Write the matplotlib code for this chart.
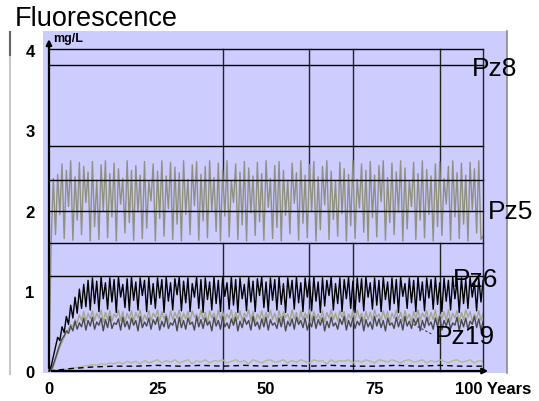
import numpy as np
import matplotlib
matplotlib.use('Agg')
import matplotlib.pyplot as plt
from matplotlib.lines import Line2D

plt.rcParams['font.family'] = ['Liberation Sans', 'DejaVu Sans']

# sampling years (every half year, every year, every 5 years)
years = np.arange(0, 100.5, 0.5)
years_low = np.arange(0, 101, 1)
years_base = np.arange(0, 101, 5)

# Pz5 - grey band 1.6 .. 2.6 mg/L
pz5 = [0.00, 1.62, 2.40, 1.70, 2.45, 1.95, 2.58, 1.65, 2.50, 2.05, 2.62, 1.63, 2.42, 1.88, 2.60, 1.70, 2.55, 2.10, 2.48, 1.62,
       2.61, 1.80, 2.38, 1.64, 2.57, 2.00, 2.62, 1.66, 2.46, 1.92, 2.59, 1.62, 2.52, 2.08, 2.40, 1.72, 2.62, 1.85, 2.50, 1.63,
       2.56, 1.98, 2.44, 1.65, 2.61, 1.78, 2.36, 2.12, 2.58, 1.62, 2.49, 1.90, 2.62, 1.68, 2.43, 2.02, 2.60, 1.64, 2.54, 1.83,
       2.47, 1.62, 2.62, 1.95, 2.39, 1.70, 2.57, 2.06, 2.61, 1.63, 2.45, 1.87, 2.55, 1.66, 2.62, 2.00, 2.41, 1.74, 2.59, 1.62,
       2.51, 1.93, 2.62, 1.67, 2.37, 2.10, 2.58, 1.64, 2.48, 1.82, 2.61, 1.62, 2.53, 1.97, 2.43, 1.69, 2.60, 1.86, 2.46, 1.63,
       2.62, 2.04, 2.40, 1.65, 2.56, 1.79, 2.61, 1.62, 2.50, 1.94, 2.38, 1.71, 2.59, 2.09, 2.47, 1.63, 2.62, 1.84, 2.44, 1.66,
       2.57, 1.99, 2.61, 1.62, 2.42, 1.76, 2.55, 2.07, 2.62, 1.64, 2.49, 1.89, 2.36, 1.68, 2.60, 1.96, 2.52, 1.62, 2.45, 1.81,
       2.62, 1.65, 2.39, 2.03, 2.58, 1.73, 2.50, 1.62, 2.61, 1.91, 2.44, 1.67, 2.56, 2.11, 2.62, 1.63, 2.41, 1.85, 2.59, 1.70,
       2.48, 1.98, 2.62, 1.62, 2.53, 1.77, 2.37, 2.05, 2.60, 1.64, 2.46, 1.88, 2.62, 1.66, 2.51, 1.95, 2.43, 1.62, 2.58, 1.80,
       2.61, 1.69, 2.40, 2.08, 2.55, 1.63, 2.62, 1.92, 2.47, 1.65, 2.59, 1.83, 2.44, 1.62, 2.60, 2.01, 2.52, 1.72, 2.62, 1.64,
       1.68]

# Pz6 - black, rises then 0.75 .. 1.17
pz6 = [0.00, 0.06, 0.18, 0.30, 0.42, 0.38, 0.55, 0.48, 0.68, 0.58, 0.82, 0.66, 0.92, 0.72, 1.02, 0.78, 1.08, 0.80, 1.13, 0.76,
       1.16, 0.84, 1.12, 0.74, 1.17, 0.90, 1.10, 0.77, 1.16, 0.86, 1.14, 0.73, 1.17, 0.92, 1.08, 0.79, 1.15, 0.75, 1.17, 0.88,
       1.11, 0.76, 1.16, 0.94, 1.13, 0.74, 1.17, 0.83, 1.09, 0.78, 1.16, 0.91, 1.14, 0.73, 1.17, 0.87, 1.10, 0.76, 1.15, 0.95,
       1.17, 0.75, 1.12, 0.85, 1.16, 0.74, 1.09, 0.92, 1.17, 0.78, 1.14, 0.73, 1.16, 0.89, 1.11, 0.76, 1.17, 0.84, 1.13, 0.74,
       1.16, 0.93, 1.10, 0.77, 1.17, 0.82, 1.14, 0.73, 1.16, 0.90, 1.08, 0.75, 1.17, 0.86, 1.12, 0.74, 1.15, 0.94, 1.17, 0.79,
       1.11, 0.74, 1.16, 0.88, 1.14, 0.76, 1.17, 0.83, 1.09, 0.73, 1.16, 0.91, 1.13, 0.77, 1.17, 0.85, 1.10, 0.74, 1.16, 0.92,
       1.14, 0.75, 1.17, 0.87, 1.11, 0.73, 1.16, 0.81, 1.13, 0.94, 1.17, 0.76, 1.09, 0.84, 1.16, 0.74, 1.14, 0.90, 1.17, 0.78,
       1.12, 0.73, 1.16, 0.86, 1.15, 0.75, 1.17, 0.92, 1.10, 0.77, 1.16, 0.82, 1.13, 0.74, 1.17, 0.89, 1.11, 0.76, 1.16, 0.84,
       1.14, 0.73, 1.17, 0.93, 1.09, 0.78, 1.16, 0.85, 1.13, 0.74, 1.17, 0.88, 1.11, 0.75, 1.16, 0.91, 1.14, 0.77, 1.17, 0.83,
       1.10, 0.74, 1.16, 0.87, 1.13, 0.76, 1.17, 0.90, 1.12, 0.73, 1.16, 0.84, 1.14, 0.78, 1.17, 0.92, 1.11, 0.75, 1.16, 0.86,
       1.13]

# Pz19 - light khaki band 0.6 .. 0.76
pz19 = [0.00, 0.00, 0.05, 0.14, 0.22, 0.30, 0.36, 0.42, 0.48, 0.52, 0.58, 0.55, 0.64, 0.60, 0.70, 0.63, 0.74, 0.62, 0.72, 0.65,
        0.75, 0.63, 0.72, 0.66, 0.76, 0.61, 0.73, 0.64, 0.75, 0.62, 0.71, 0.67, 0.76, 0.63, 0.74, 0.60, 0.72, 0.65, 0.75, 0.62,
        0.73, 0.66, 0.76, 0.61, 0.70, 0.64, 0.75, 0.63, 0.72, 0.67, 0.76, 0.62, 0.74, 0.65, 0.71, 0.60, 0.75, 0.64, 0.73, 0.66,
        0.76, 0.62, 0.72, 0.65, 0.74, 0.61, 0.75, 0.67, 0.71, 0.63, 0.76, 0.64, 0.73, 0.60, 0.75, 0.66, 0.72, 0.62, 0.76, 0.65,
        0.74, 0.63, 0.71, 0.66, 0.76, 0.61, 0.73, 0.64, 0.75, 0.62, 0.72, 0.67, 0.76, 0.63, 0.74, 0.60, 0.71, 0.65, 0.75, 0.62,
        0.73, 0.66, 0.76, 0.64, 0.72, 0.61, 0.75, 0.63, 0.74, 0.67, 0.71, 0.62, 0.76, 0.65, 0.73, 0.60, 0.75, 0.64, 0.72, 0.66,
        0.76, 0.62, 0.74, 0.65, 0.71, 0.63, 0.75, 0.61, 0.73, 0.66, 0.76, 0.64, 0.72, 0.62, 0.75, 0.67, 0.74, 0.60, 0.71, 0.65,
        0.75, 0.63, 0.76, 0.66, 0.72, 0.61, 0.74, 0.64, 0.73, 0.62, 0.76, 0.67, 0.71, 0.63, 0.75, 0.65, 0.74, 0.60, 0.72, 0.66,
        0.76, 0.64, 0.73, 0.62, 0.75, 0.65, 0.71, 0.61, 0.74, 0.66, 0.76, 0.63, 0.72, 0.67, 0.75, 0.62, 0.73, 0.64, 0.76, 0.60,
        0.71, 0.65, 0.74, 0.63, 0.76, 0.62, 0.72, 0.66, 0.75, 0.61, 0.73, 0.64, 0.76, 0.67, 0.74, 0.62, 0.71, 0.65, 0.75, 0.63,
        0.72]

# dark grey band 0.5 .. 0.68 (unlabelled)
dark = [0.00, 0.02, 0.08, 0.16, 0.25, 0.33, 0.40, 0.44, 0.50, 0.47, 0.56, 0.50, 0.62, 0.52, 0.60, 0.55, 0.66, 0.51, 0.63, 0.56,
        0.67, 0.52, 0.61, 0.57, 0.66, 0.50, 0.64, 0.54, 0.68, 0.53, 0.60, 0.58, 0.65, 0.51, 0.67, 0.55, 0.62, 0.52, 0.66, 0.57,
        0.63, 0.50, 0.68, 0.54, 0.61, 0.56, 0.66, 0.52, 0.64, 0.58, 0.67, 0.51, 0.62, 0.55, 0.68, 0.53, 0.60, 0.57, 0.65, 0.50,
        0.67, 0.54, 0.63, 0.52, 0.66, 0.58, 0.61, 0.51, 0.68, 0.55, 0.64, 0.53, 0.66, 0.57, 0.62, 0.50, 0.67, 0.56, 0.63, 0.52,
        0.68, 0.55, 0.60, 0.53, 0.65, 0.57, 0.67, 0.50, 0.62, 0.54, 0.66, 0.58, 0.63, 0.51, 0.68, 0.56, 0.61, 0.52, 0.65, 0.55,
        0.67, 0.51, 0.64, 0.57, 0.60, 0.53, 0.66, 0.55, 0.68, 0.50, 0.62, 0.56, 0.65, 0.52, 0.67, 0.58, 0.63, 0.54, 0.66, 0.51,
        0.61, 0.55, 0.68, 0.53, 0.64, 0.57, 0.66, 0.50, 0.62, 0.54, 0.67, 0.56, 0.60, 0.52, 0.65, 0.58, 0.68, 0.51, 0.63, 0.55,
        0.66, 0.53, 0.62, 0.57, 0.67, 0.50, 0.64, 0.55, 0.61, 0.52, 0.68, 0.56, 0.65, 0.54, 0.63, 0.50, 0.66, 0.57, 0.60, 0.53,
        0.67, 0.55, 0.64, 0.51, 0.68, 0.56, 0.62, 0.53, 0.65, 0.58, 0.66, 0.50, 0.63, 0.54, 0.67, 0.57, 0.61, 0.52, 0.66, 0.55,
        0.68, 0.51, 0.63, 0.56, 0.65, 0.53, 0.60, 0.57, 0.67, 0.50, 0.64, 0.55, 0.66, 0.52, 0.62, 0.58, 0.68, 0.54, 0.65, 0.51,
        0.62]

# low khaki series ~0.1 (yearly)
low = [0.00, 0.00, 0.00, 0.01, 0.02, 0.03, 0.04, 0.05, 0.06, 0.07, 0.08, 0.07, 0.09, 0.08, 0.10, 0.09, 0.11, 0.09, 0.12, 0.10,
       0.12, 0.09, 0.13, 0.10, 0.12, 0.14, 0.10, 0.13, 0.11, 0.14, 0.10, 0.12, 0.14, 0.09, 0.13, 0.11, 0.14, 0.10, 0.13, 0.12,
       0.14, 0.10, 0.12, 0.14, 0.11, 0.13, 0.09, 0.14, 0.12, 0.10, 0.13, 0.14, 0.11, 0.12, 0.14, 0.10, 0.13, 0.11, 0.14, 0.12,
       0.10, 0.14, 0.12, 0.13, 0.09, 0.14, 0.11, 0.13, 0.12, 0.14, 0.10, 0.13, 0.11, 0.14, 0.12, 0.10, 0.14, 0.13, 0.11, 0.14,
       0.12, 0.10, 0.13, 0.14, 0.11, 0.12, 0.14, 0.10, 0.13, 0.11, 0.14, 0.12, 0.10, 0.13, 0.14, 0.11, 0.12, 0.14, 0.10, 0.13,
       0.12]

# black base line near 0 (every 5 years)
base = [0.00, 0.03, 0.05, 0.06, 0.06, 0.07, 0.06, 0.07, 0.06, 0.07, 0.06, 0.07, 0.06, 0.07, 0.06, 0.06, 0.07, 0.06, 0.07, 0.06, 0.06]

# reference lines
h_levels = [4.01, 3.81, 2.80, 2.38, 1.99, 1.60, 1.19]
v_years = [40, 60, 70, 90]

x_ticks = [0, 25, 50, 75]
y_ticks = [0, 1, 2, 3, 4]

fig = plt.figure(figsize=(5.39, 4.02), dpi=100)
ax = fig.add_axes([43 / 539, 28 / 402, 464 / 539, 342 / 402])
ax.set_facecolor('#ccccff')
ax.set_xlim(-1.38, 105.5)
ax.set_ylim(-0.025, 4.237)

for s in ['top', 'left', 'bottom']:
    ax.spines[s].set_visible(False)
ax.spines['right'].set_color('#8a8a8a')
ax.spines['right'].set_linewidth(1.2)

# data
ax.plot(years, pz5, color='#909080', lw=1.0, zorder=2)
ax.plot(years_low, low, color='#b8b890', lw=1.0, zorder=2)
ax.plot(years_base, base, color='black', lw=1.0, ls=(0, (4, 3)), zorder=2)
ax.plot(years, pz19, color='#a5a58e', lw=1.0, zorder=2)
ax.plot(years, dark, color='#4a4a4a', lw=1.0, zorder=2)
ax.plot(years, pz6, color='black', lw=1.0, zorder=3)

# grid-like reference lines
for h in h_levels:
    ax.plot([0, 100], [h, h], color='black', lw=1.0, zorder=4)
for v in v_years:
    ax.plot([v, v], [0, 1.60], color='#222222', lw=1.0, zorder=1.5)
    ax.plot([v, v], [2.38, 4.01], color='#222222', lw=1.0, zorder=1.5)
ax.plot([100, 100], [0, 4.01], color='#222222', lw=1.0, zorder=4)

# axes with arrows
ax.annotate('', xy=(0, 4.17), xytext=(0, 0), arrowprops=dict(arrowstyle='-|>', color='black', lw=1.6, mutation_scale=8), zorder=5)
ax.annotate('', xy=(101.8, 0), xytext=(0, 0), arrowprops=dict(arrowstyle='-|>', color='black', lw=1.6, mutation_scale=8), zorder=5)
ax.text(1.0, 4.15, 'mg/L', fontsize=9, fontweight='bold', ha='left', va='center')

# leader line for Pz19
ax.plot([84, 88.5], [0.58, 0.45], color='#333333', lw=0.8, ls=(0, (2, 2)), zorder=5)

# series labels
lab = dict(fontsize=19, ha='left', va='center', clip_on=False, zorder=6)
ax.text(97.3, 3.78, 'Pz8', **lab)
ax.text(101.0, 1.99, 'Pz5', **lab)
ax.text(93.0, 1.15, 'Pz6', **lab)
ax.text(89.0, 0.44, 'Pz19', **lab)

# ticks
ax.set_xticks(x_ticks)
ax.set_xticklabels([str(t) for t in x_ticks], fontsize=12, fontweight='bold')
ax.set_yticks(y_ticks)
ax.set_yticklabels([str(t) for t in y_ticks], fontsize=12, fontweight='bold')
ax.tick_params(length=0)
ax.tick_params(axis='x', pad=6)
ax.tick_params(axis='y', pad=6)
ax.text(93.5, -0.13, '100 Years', fontsize=12, fontweight='bold', ha='left', va='top', clip_on=False)

# title and left frame line
fig.text(15 / 539, 1 - 26 / 402, 'Fluorescence', fontsize=19.5, ha='left', va='baseline')
fig.add_artist(Line2D([10 / 539, 10 / 539], [1 - 33 / 402, 1 - 375 / 402], color='#c8c8c8', lw=1.5))
fig.add_artist(Line2D([10 / 539, 10 / 539], [1 - 33 / 402, 1 - 56 / 402], color='#666666', lw=1.5))

plt.savefig('out.png', dpi=100)
